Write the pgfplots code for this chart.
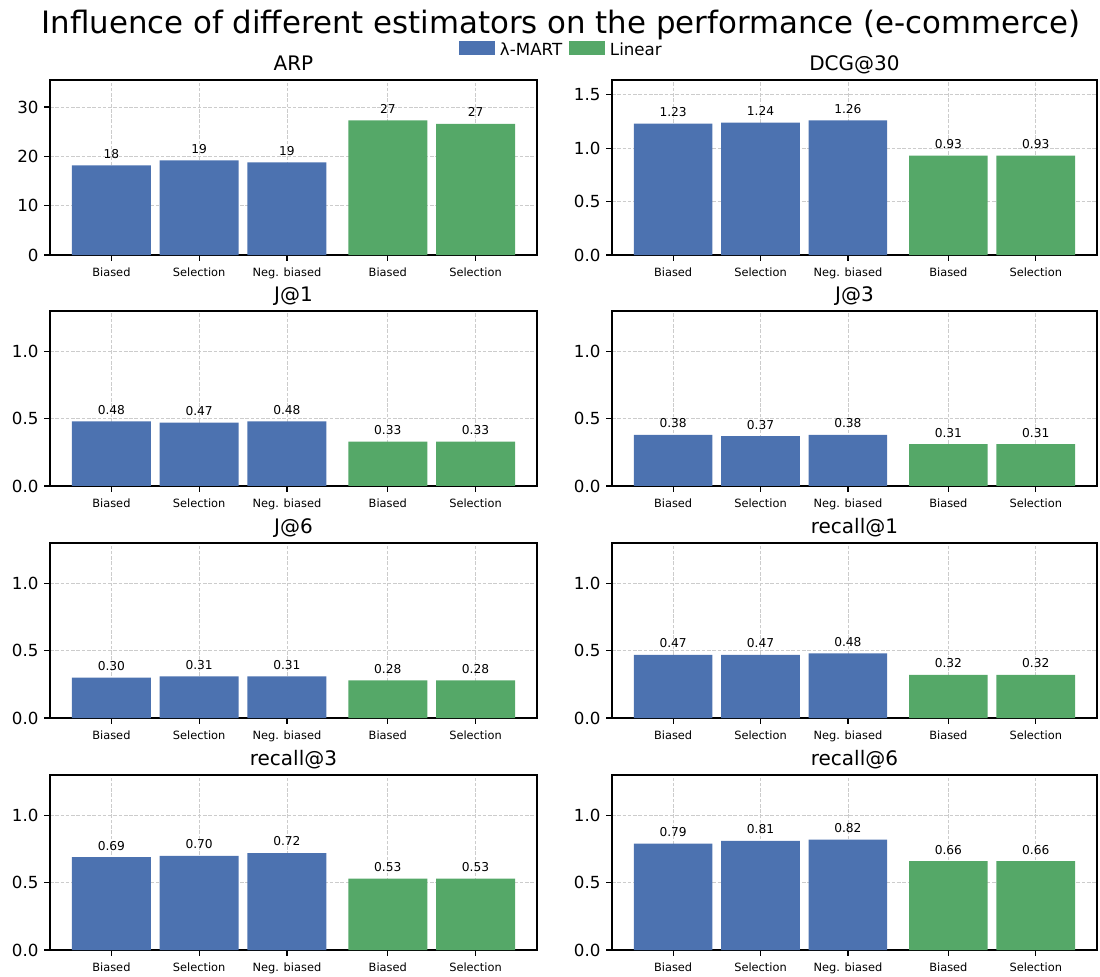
\documentclass[border=0pt]{standalone}
\usepackage{fontspec}
\setmainfont{DejaVu Sans}
\usepackage{pgfplots}
\pgfplotsset{compat=1.18}

\definecolor{lmart}{HTML}{4C72B0}
\definecolor{linear}{HTML}{55A868}

\pgfplotsset{
  /pgf/number format/assume math mode=true,
  panel/.style={
    scale only axis, height=126pt,
    xmin=-0.7, xmax=4.85, ymin=0,
    ybar, bar width=0.9,
    xtick={0,1,2,3.15,4.15},
    xticklabels={Biased,Selection,Neg. biased,Biased,Selection},
    tick align=outside, tick pos=left,
    major tick length=4.2pt,
    xmajorgrids, ymajorgrids,
    major grid style={dash pattern=on 2.6pt off 1.2pt, black!20, line width=0.55pt},
    axis line style={line width=0.9pt},
    every tick/.style={black, line width=0.9pt},
    xticklabel style={font=\fontsize{8.2}{9}\selectfont, inner sep=0pt, yshift=-5pt},
    yticklabel style={font=\fontsize{12}{14}\selectfont, inner sep=0pt, xshift=-3.9pt,
      /pgf/number format/.cd, fixed, fixed zerofill, precision=1},
    title style={font=\fontsize{14.4}{17}\selectfont, anchor=south, inner sep=0pt,
      text depth=0pt, yshift=0.5pt},
    nodes near coords,
    nodes near coords style={font=\fontsize{8.8}{10}\selectfont, black, anchor=south,
      inner sep=0pt, yshift=4.8pt,
      /pgf/number format/.cd, fixed, fixed zerofill, precision=2},
    area legend,
  },
  leftpanel/.style={panel, width=350.6pt},
  rightpanel/.style={panel, width=349.2pt},
  unit/.style={ymax=1.3, ytick={0,0.5,1.0}},
  lm/.style={fill=lmart, draw=none, bar shift=0pt},
  ln/.style={fill=linear, draw=none, bar shift=0pt},
}

\begin{document}
\begin{tikzpicture}
\useasboundingbox (0,0) rectangle (792pt,-703.44pt);

\node[font=\fontsize{22.2}{26}\selectfont, anchor=base] at (403.9pt,-24pt)
  {Influence of different estimators on the performance (e-commerce)};

% ---- row 1 ----
\begin{axis}[leftpanel, at={(36pt,-57.6pt)}, anchor=north west,
  title={ARP}, ymax=35.5, ytick={0,10,20,30},
  yticklabel style={/pgf/number format/precision=0},
  nodes near coords style={/pgf/number format/precision=0},
  legend columns=2,
  legend style={at={(rel axis cs:1.048,1.176)}, anchor=center, draw=none, fill=none,
    font=\fontsize{12}{14}\selectfont, inner sep=0pt, nodes={inner sep=0pt},
    /tikz/every odd column/.append style={column sep=3.6pt},
    /tikz/every even column/.append style={column sep=4.8pt}},
  legend image code/.code={\fill[#1] (0pt,-3.6pt) rectangle (26pt,6.1pt);},
  ]
\addplot[lm] coordinates {(0,18.2) (1,19.2) (2,18.8)};
\addlegendentry{λ-MART}
\addplot[ln] coordinates {(3.15,27.3) (4.15,26.6)};
\addlegendentry{Linear}
\end{axis}

\begin{axis}[rightpanel, at={(440.6pt,-57.6pt)}, anchor=north west,
  title={DCG@30}, ymax=1.638, ytick={0,0.5,1.0,1.5}]
\addplot[lm] coordinates {(0,1.23) (1,1.24) (2,1.26)};
\addplot[ln] coordinates {(3.15,0.93) (4.15,0.93)};
\end{axis}

% ---- row 2 ----
\begin{axis}[leftpanel, unit, at={(36pt,-223.9pt)}, anchor=north west, title={J@1}]
\addplot[lm] coordinates {(0,0.48) (1,0.47) (2,0.48)};
\addplot[ln] coordinates {(3.15,0.33) (4.15,0.33)};
\end{axis}

\begin{axis}[rightpanel, unit, at={(440.6pt,-223.9pt)}, anchor=north west, title={J@3}]
\addplot[lm] coordinates {(0,0.38) (1,0.37) (2,0.38)};
\addplot[ln] coordinates {(3.15,0.31) (4.15,0.31)};
\end{axis}

% ---- row 3 ----
\begin{axis}[leftpanel, unit, at={(36pt,-391pt)}, anchor=north west, title={J@6}]
\addplot[lm] coordinates {(0,0.30) (1,0.31) (2,0.31)};
\addplot[ln] coordinates {(3.15,0.28) (4.15,0.28)};
\end{axis}

\begin{axis}[rightpanel, unit, at={(440.6pt,-391pt)}, anchor=north west, title={recall@1}]
\addplot[lm] coordinates {(0,0.47) (1,0.47) (2,0.48)};
\addplot[ln] coordinates {(3.15,0.32) (4.15,0.32)};
\end{axis}

% ---- row 4 ----
\begin{axis}[leftpanel, unit, at={(36pt,-558pt)}, anchor=north west, title={recall@3}]
\addplot[lm] coordinates {(0,0.69) (1,0.70) (2,0.72)};
\addplot[ln] coordinates {(3.15,0.53) (4.15,0.53)};
\end{axis}

\begin{axis}[rightpanel, unit, at={(440.6pt,-558pt)}, anchor=north west, title={recall@6}]
\addplot[lm] coordinates {(0,0.79) (1,0.81) (2,0.82)};
\addplot[ln] coordinates {(3.15,0.66) (4.15,0.66)};
\end{axis}
\end{tikzpicture}
\end{document}
